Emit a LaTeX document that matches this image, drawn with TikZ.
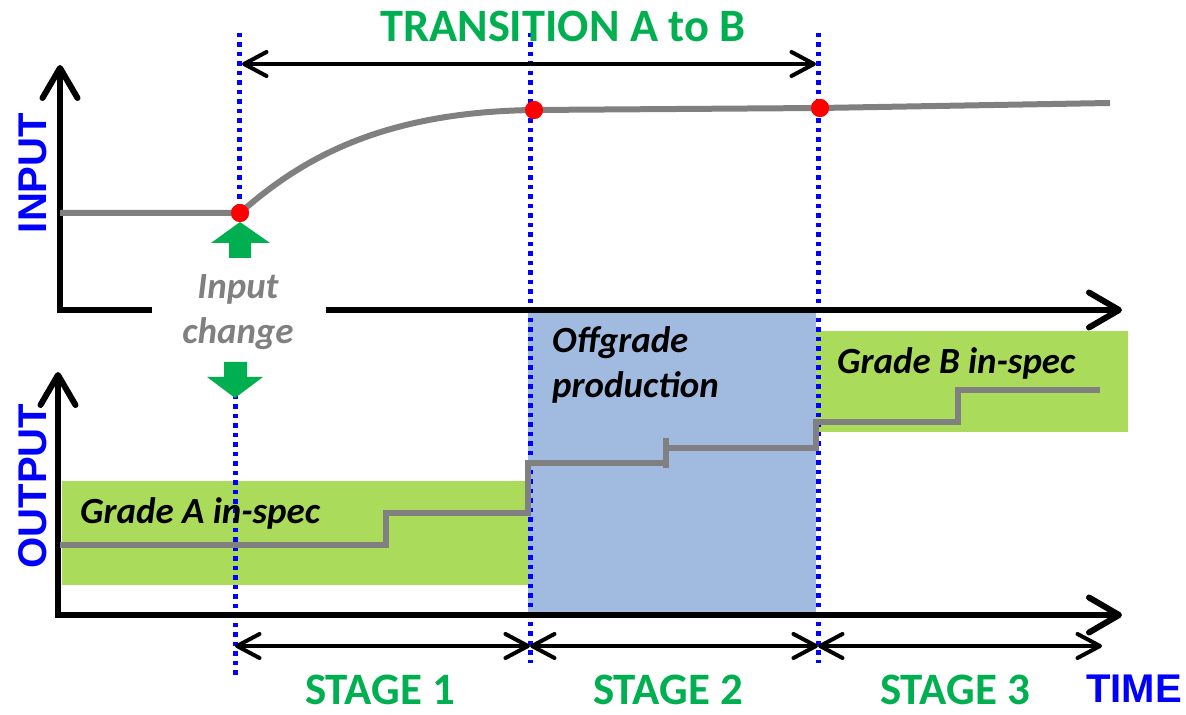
\documentclass[tikz,border=0pt]{standalone}
\usepackage{fontspec}
\setmainfont{Carlito}
\newfontfamily\arialfont{Liberation Sans}
\usetikzlibrary{arrows.meta}
\definecolor{txtgreen}{RGB}{0,176,80}
\definecolor{specgreen}{RGB}{170,219,90}
\definecolor{offblue}{RGB}{160,186,224}
\definecolor{linegray}{RGB}{128,128,128}

\begin{document}
\begin{tikzpicture}[
    x=0.02cm, y=-0.02cm,
    axis/.style={line width=0.12cm, -{Straight Barb[length=0.6cm, width=0.7cm, round]}},
    stagespan/.style={line width=0.08cm, {Straight Barb[length=0.45cm, width=0.48cm, round]}-{Straight Barb[length=0.45cm, width=0.48cm, round]}},
    tmark/.style={draw=blue, line width=0.1cm, dash pattern=on 0.09cm off 0.1cm},
    trace/.style={draw=linegray, line width=0.12cm},
    event/.style={circle, fill=red, inner sep=0pt, minimum size=0.36cm},
    stagelbl/.style={text=txtgreen, inner sep=1pt, font=\bfseries\fontsize{25.6}{30}\selectfont},
    axislbl/.style={text=blue, inner sep=1pt, font=\arialfont\bfseries\fontsize{22.8}{26}\selectfont},
    notelbl/.style={font=\bfseries\itshape\fontsize{21}{25.5}\selectfont, align=left, anchor=west}
]
\useasboundingbox (0,0) rectangle (1186,715);

% Bands
\fill[specgreen] (62,481) rectangle (528,585);
\fill[offblue] (528,312) rectangle (816,612);
\fill[specgreen] (816,331) rectangle (1128,432);

% Time markers
\draw[tmark] (239,33) -- (239,213);
\draw[tmark] (235,395) -- (235,675);
\draw[tmark] (530,33) -- (530,663);
\draw[tmark] (818,33) -- (818,663);

% Axes
\coordinate (o1) at (60,310);
\coordinate (o2) at (58,615);
\draw[axis] (o1) -- (60,65);
\draw[line width=0.12cm] (57,310) -- (152,310);
\draw[axis] (326,310) -- (1122,310);
\draw[axis] (o2) -- (58,372);
\draw[axis] (55,615) -- (1122,615);

% Input trace
\node[event] (p1) at (240,213) {};
\node[event] (p2) at (534,110) {};
\node[event] (p3) at (820,108) {};
\draw[trace] (60,213) -- (p1.center)
    .. controls (300,160) and (380,112) .. (p2.center)
    -- (p3.center) -- (1110,103);
\node[event] at (p1) {};
\node[event] at (p2) {};
\node[event] at (p3) {};

% Output trace
\draw[trace] (60,545) -- (386,545) -- (386,513) -- (528,513) -- (528,463)
    -- (666,463) -- (666,448) -- (816,448) -- (816,422) -- (958,422)
    -- (958,390) -- (1100,390);
\draw[trace] (666,438) -- (666,468);

% Input change arrows
\fill[txtgreen] (240,222) -- (270,243) -- (251,243) -- (251,258)
    -- (229,258) -- (229,243) -- (211,243) -- cycle;
\fill[txtgreen] (235,398) -- (263,377) -- (247,377) -- (247,362)
    -- (224,362) -- (224,377) -- (207,377) -- cycle;
\node[font=\bfseries\itshape\fontsize{21}{25.5}\selectfont, text=linegray, align=center] (chg) at (238,312) {Input\\change};

% Transition span
\coordinate (ta) at (242,64);
\coordinate (tb) at (816,64);
\draw[stagespan] (ta) -- (tb);
\node[stagelbl, font=\bfseries\fontsize{26.4}{30}\selectfont] (trans) at (563,26) {TRANSITION A to B};

% Stage spans
\coordinate (s0) at (235,646);
\coordinate (s1) at (530,646);
\coordinate (s2) at (818,646);
\coordinate (s3) at (1102,646);
\draw[stagespan] (s0) -- (s1);
\draw[stagespan] (s1) -- (s2);
\draw[stagespan] (s2) -- (s3);
\node[stagelbl, anchor=base] (st1) at (380,704) {STAGE 1};
\node[stagelbl, anchor=base] (st2) at (668,704) {STAGE 2};
\node[stagelbl, anchor=base] (st3) at (955,704) {STAGE 3};

% Band labels
\node[notelbl] (gA) at (74,513) {Grade A in-spec};
\node[notelbl] (off) at (546,365) {Offgrade\\production};
\node[notelbl] (gB) at (831,363) {Grade B in-spec};

% Axis labels
\node[axislbl, rotate=90] (inlbl) at (33,173) {INPUT};
\node[axislbl, rotate=90] (outlbl) at (33,486) {OUTPUT};
\node[axislbl, anchor=base east] (time) at (1184,702) {TIME};

\end{tikzpicture}
\end{document}
